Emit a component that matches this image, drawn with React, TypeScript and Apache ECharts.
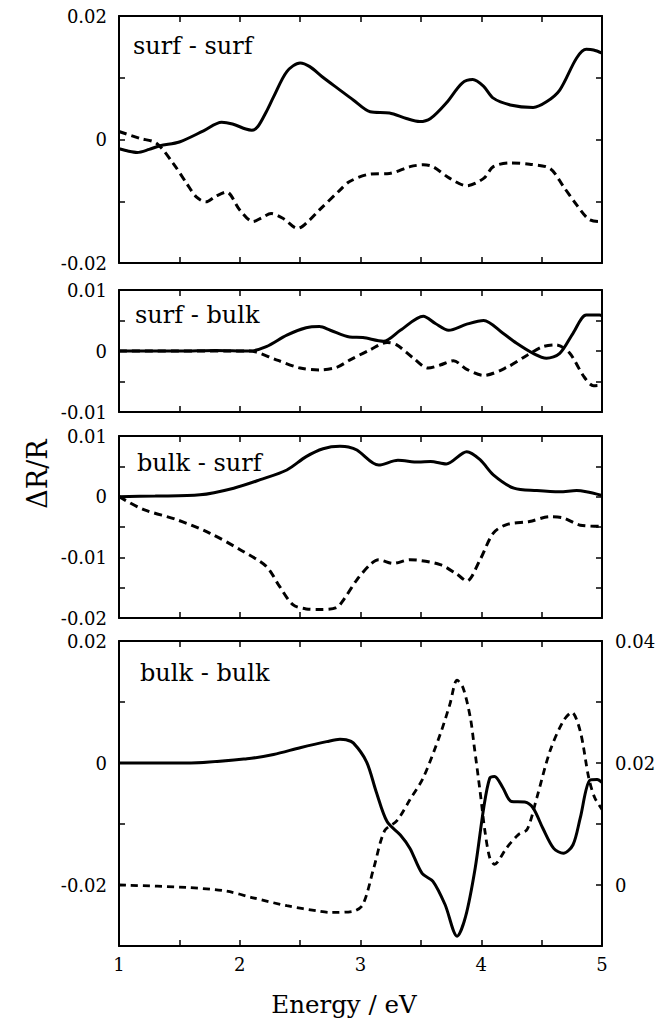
import React, { useEffect, useRef } from "react";
import * as echarts from "echarts";

// Energy axis ticks
const xTicks = ["1", "2", "3", "4", "5"];
const panelTitles = ["surf - surf", "surf - bulk", "bulk - surf", "bulk - bulk"];

// Panel 1: surf - surf
const p1SolidX = [1.0, 1.08, 1.15, 1.25, 1.34, 1.5, 1.7, 1.85, 1.94, 2.05, 2.1, 2.15, 2.22, 2.28, 2.39, 2.5, 2.58, 2.68, 2.83, 2.94, 3.08, 3.24, 3.38, 3.49, 3.58, 3.71, 3.84, 3.93, 4.02, 4.1, 4.24, 4.43, 4.54, 4.65, 4.79, 4.87, 4.93, 5.0];
const p1SolidY = [-0.0015, -0.0019, -0.0021, -0.0016, -0.001, -0.0004, 0.0014, 0.0028, 0.0025, 0.0017, 0.0015, 0.0021, 0.0045, 0.0069, 0.011, 0.0124, 0.0118, 0.0102, 0.008, 0.0064, 0.0045, 0.0043, 0.0034, 0.0029, 0.0034, 0.0059, 0.0091, 0.0097, 0.0086, 0.0067, 0.0056, 0.0052, 0.0061, 0.008, 0.0132, 0.0146, 0.0145, 0.014];
const p1DashX = [1.0, 1.17, 1.31, 1.45, 1.56, 1.64, 1.72, 1.8, 1.89, 2.0, 2.11, 2.18, 2.26, 2.36, 2.48, 2.58, 2.66, 2.83, 2.91, 3.08, 3.24, 3.41, 3.52, 3.6, 3.74, 3.88, 4.02, 4.1, 4.24, 4.4, 4.57, 4.68, 4.79, 4.89, 4.98, 5.0];
const p1DashY = [0.0013, 0.0002, -0.0006, -0.0039, -0.0071, -0.0093, -0.0101, -0.0092, -0.0085, -0.0114, -0.0133, -0.0127, -0.012, -0.0128, -0.0144, -0.013, -0.0114, -0.0082, -0.0068, -0.0056, -0.0055, -0.0044, -0.0041, -0.0044, -0.0063, -0.0075, -0.0063, -0.0044, -0.0038, -0.004, -0.0047, -0.0076, -0.0106, -0.0129, -0.0133, -0.0133];

// Panel 2: surf - bulk
const p2SolidX = [1.0, 1.5, 1.8, 2.08, 2.22, 2.39, 2.55, 2.66, 2.75, 2.91, 3.02, 3.19, 3.33, 3.52, 3.62, 3.73, 3.88, 4.02, 4.18, 4.29, 4.43, 4.54, 4.65, 4.76, 4.87, 4.98, 5.0];
const p2SolidY = [0, 0, 0.0001, 0, 0.0007, 0.0026, 0.0038, 0.004, 0.0034, 0.0023, 0.0022, 0.0016, 0.0034, 0.0057, 0.0045, 0.0034, 0.0044, 0.005, 0.0029, 0.0013, -0.0004, -0.0012, -0.0004, 0.0029, 0.0059, 0.0059, 0.0058];
const p2DashX = [1.0, 2.08, 2.31, 2.5, 2.66, 2.8, 2.91, 3.08, 3.22, 3.3, 3.44, 3.56, 3.66, 3.77, 3.88, 4.02, 4.21, 4.38, 4.51, 4.62, 4.73, 4.85, 4.93, 5.0];
const p2DashY = [0, 0, -0.0015, -0.0028, -0.0031, -0.0027, -0.0015, 0.0002, 0.0014, 0.001, -0.0012, -0.0028, -0.0023, -0.0016, -0.003, -0.004, -0.0027, -0.0007, 0.0007, 0.001, -0.0003, -0.0042, -0.0057, -0.0056];

// Panel 3: bulk - surf
const p3SolidX = [1.0, 1.3, 1.67, 1.95, 2.17, 2.39, 2.55, 2.69, 2.83, 2.9, 2.97, 3.15, 3.31, 3.48, 3.58, 3.71, 3.88, 3.99, 4.1, 4.27, 4.46, 4.65, 4.79, 4.87, 5.0];
const p3SolidY = [0, 0.0001, 0.0003, 0.0014, 0.0028, 0.0044, 0.0066, 0.0079, 0.0083, 0.0082, 0.0077, 0.0052, 0.006, 0.0057, 0.0058, 0.0054, 0.0074, 0.0061, 0.0036, 0.0014, 0.001, 0.0008, 0.001, 0.0008, 0.0002];
const p3DashX = [1.0, 1.2, 1.48, 1.75, 2.0, 2.22, 2.33, 2.44, 2.55, 2.66, 2.8, 2.86, 2.97, 3.08, 3.15, 3.27, 3.41, 3.66, 3.8, 3.88, 3.99, 4.1, 4.21, 4.4, 4.57, 4.68, 4.82, 5.0];
const p3DashY = [0, -0.0021, -0.0038, -0.006, -0.0087, -0.0115, -0.0148, -0.0178, -0.0185, -0.0186, -0.0183, -0.017, -0.0137, -0.0112, -0.0104, -0.011, -0.0104, -0.0112, -0.0128, -0.0139, -0.0104, -0.006, -0.0046, -0.0041, -0.0033, -0.0035, -0.0047, -0.0049];

// Panel 4: bulk - bulk (solid on left axis, dashed on right axis)
const p4SolidX = [1.0, 1.56, 2.06, 2.28, 2.5, 2.72, 2.83, 2.88, 2.94, 3.05, 3.13, 3.22, 3.33, 3.41, 3.51, 3.6, 3.7, 3.8, 3.87, 3.95, 4.02, 4.07, 4.11, 4.18, 4.25, 4.36, 4.43, 4.51, 4.6, 4.68, 4.76, 4.82, 4.9, 4.96, 5.0];
const p4SolidY = [0, 0, 0.0007, 0.0014, 0.0025, 0.0035, 0.0039, 0.0038, 0.0033, 0.0002, -0.0047, -0.0096, -0.0118, -0.014, -0.0181, -0.0194, -0.0232, -0.0284, -0.0252, -0.0172, -0.0074, -0.0025, -0.0022, -0.0041, -0.0063, -0.0064, -0.0074, -0.0107, -0.014, -0.0148, -0.0134, -0.009, -0.0028, -0.0027, -0.0032];
const p4DashX = [1.0, 1.56, 1.89, 2.11, 2.39, 2.66, 2.75, 2.94, 3.02, 3.11, 3.2, 3.3, 3.41, 3.52, 3.66, 3.74, 3.8, 3.85, 3.91, 3.94, 3.99, 4.03, 4.07, 4.11, 4.21, 4.31, 4.38, 4.46, 4.57, 4.68, 4.75, 4.82, 4.89, 4.94, 5.0];
const p4DashY = [0, -0.0004, -0.001, -0.0021, -0.0034, -0.0043, -0.0045, -0.0043, -0.0032, 0.0028, 0.0089, 0.0105, 0.014, 0.0176, 0.0247, 0.0296, 0.0336, 0.0323, 0.0274, 0.023, 0.0154, 0.0089, 0.0045, 0.0034, 0.0061, 0.0083, 0.0091, 0.0143, 0.022, 0.0269, 0.0283, 0.0252, 0.0176, 0.0143, 0.0124];

// Y axis ranges per panel
const yMins = [-0.02, -0.01, -0.02, -0.03];
const yMaxs = [0.02, 0.01, 0.01, 0.02];
const yTickSteps = [0.01, 0.005, 0.005, 0.01];
const yLabelSteps = [0.02, 0.01, 0.01, 0.02];
const y2Min = -0.01;
const y2Max = 0.04;

const zip = (xs: number[], ys: number[]) => xs.map((x, i) => [x, ys[i]]);

const FONT = "DejaVu Serif";

const fmtStep = (step: number) => (v: number) => {
  const k = v / step;
  if (Math.abs(k - Math.round(k)) > 1e-6) return "";
  const r = Math.round(v * 10000) / 10000;
  return r === 0 ? "0" : String(r);
};

export default function App() {
  const ref = useRef<HTMLDivElement>(null);
  useEffect(() => {
    if (!ref.current) return;
    const chart = echarts.init(ref.current, undefined, { renderer: "svg" });

    const grids = [
      { left: 119, top: 16, width: 483, height: 247 },
      { left: 119, top: 290, width: 483, height: 122 },
      { left: 119, top: 436, width: 483, height: 182 },
      { left: 119, top: 641, width: 483, height: 305 },
    ];

    const axisLine = { show: true, onZero: false, lineStyle: { color: "#000", width: 2 } };
    const axisTick = { show: true, inside: true, length: 6, lineStyle: { color: "#000", width: 1.5 } };

    const xAxis: any[] = [];
    const yAxis: any[] = [];
    grids.forEach((_, i) => {
      xAxis.push({
        type: "value", gridIndex: i, position: "bottom", min: 1, max: 5, interval: 0.5,
        axisLine, axisTick, splitLine: { show: false },
        axisLabel: {
          show: i === 3, margin: 9, color: "#000", fontFamily: FONT, fontSize: 18,
          formatter: (v: number) => (Math.abs(v - Math.round(v)) < 1e-6 ? xTicks[Math.round(v) - 1] : ""),
        },
      });
      xAxis.push({
        type: "value", gridIndex: i, position: "top", min: 1, max: 5, interval: 0.5,
        axisLine, axisTick, splitLine: { show: false }, axisLabel: { show: false },
      });
      yAxis.push({
        type: "value", gridIndex: i, position: "left", min: yMins[i], max: yMaxs[i], interval: yTickSteps[i],
        axisLine, axisTick, splitLine: { show: false },
        axisLabel: { show: true, margin: 12, color: "#000", fontFamily: FONT, fontSize: 18, interval: 0, formatter: fmtStep(yLabelSteps[i]) },
      });
      if (i < 3) {
        yAxis.push({
          type: "value", gridIndex: i, position: "right", min: yMins[i], max: yMaxs[i], interval: yTickSteps[i],
          axisLine, axisTick, splitLine: { show: false }, axisLabel: { show: false },
        });
      } else {
        yAxis.push({
          type: "value", gridIndex: i, position: "right", min: y2Min, max: y2Max, interval: 0.01,
          axisLine, axisTick, splitLine: { show: false },
          axisLabel: { show: true, margin: 13, color: "#000", fontFamily: FONT, fontSize: 18, formatter: fmtStep(0.02) },
        });
      }
    });

    const mk = (data: number[][], panel: number, dashed: boolean, right = false, width = 3, dash = [8, 5]) => ({
      type: "line",
      xAxisIndex: panel * 2,
      yAxisIndex: panel * 2 + (right ? 1 : 0),
      data,
      showSymbol: false,
      symbol: "none",
      smooth: 0.3,
      lineStyle: { color: "#000", width, type: dashed ? dash : "solid", cap: "butt" },
    });

    const series = [
      mk(zip(p1SolidX, p1SolidY), 0, false),
      mk(zip(p1DashX, p1DashY), 0, true),
      mk(zip(p2SolidX, p2SolidY), 1, false),
      mk(zip(p2DashX, p2DashY), 1, true),
      mk(zip(p3SolidX, p3SolidY), 2, false),
      mk(zip(p3DashX, p3DashY), 2, true),
      mk(zip(p4SolidX, p4SolidY), 3, false),
      mk(zip(p4DashX, p4DashY), 3, true, true, 2.8, [7, 5]),
    ];

    const titlePos = [
      [133, 45.5],
      [135, 314.5],
      [137, 462.5],
      [140, 672.5],
    ];

    const graphic: any[] = panelTitles.map((t, i) => ({
      type: "text",
      x: titlePos[i][0],
      y: titlePos[i][1],
      style: { text: t, fill: "#000", fontFamily: FONT, fontSize: 24, align: "left", verticalAlign: "middle" },
    }));
    graphic.push({
      type: "text",
      x: 344,
      y: 1004,
      style: { text: "Energy / eV", fill: "#000", fontFamily: FONT, fontSize: 24.5, align: "center", verticalAlign: "middle" },
    });
    graphic.push({
      type: "text",
      x: 37,
      y: 474,
      rotation: Math.PI / 2,
      style: { text: "ΔR/R", fill: "#000", fontFamily: FONT, fontSize: 27, align: "center", verticalAlign: "middle" },
    });

    chart.setOption({
      animation: false,
      backgroundColor: "#fff",
      grid: grids,
      xAxis,
      yAxis,
      series,
      graphic,
    });
    return () => chart.dispose();
  }, []);

  return (
    <div
      ref={ref}
      style={{ position: "absolute", left: 0, top: 0, width: 667, height: 1019 }}
    />
  );
}
